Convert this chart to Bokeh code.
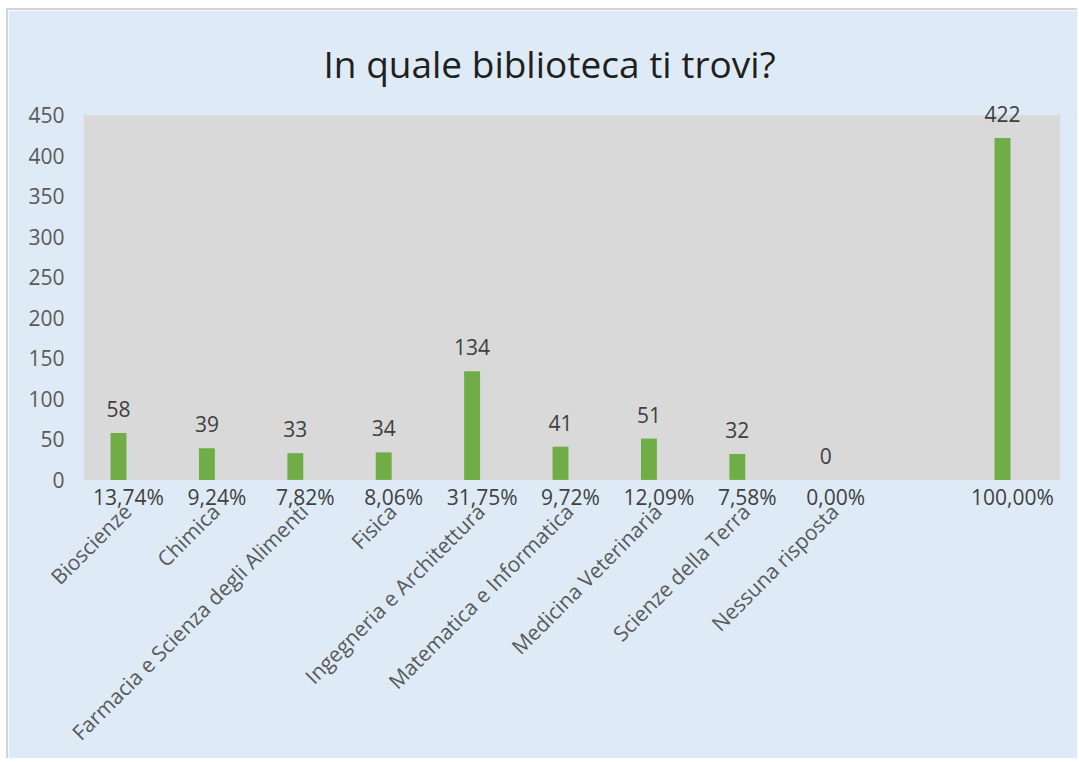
import math
from bokeh.plotting import figure
from bokeh.models import Range1d, FixedTicker, ColumnDataSource, LinearAxis, Spacer
from bokeh.layouts import column, row
from bokeh.core.properties import value
from bokeh.embed import file_html
from bokeh.resources import INLINE

title_text = "In quale biblioteca ti trovi?"
categories = ["Bioscienze", "Chimica", "Farmacia e Scienza degli Alimenti", "Fisica",
              "Ingegneria e Architettura", "Matematica e Informatica", "Medicina Veterinaria",
              "Scienze della Terra", "Nessuna risposta", "", ""]
counts = [58, 39, 33, 34, 134, 41, 51, 32, 0, None, 422]
percent_labels = ["13,74%", "9,24%", "7,82%", "8,06%", "31,75%", "9,72%", "12,09%",
                  "7,58%", "0,00%", "", "100,00%"]
y_ticks = [0, 50, 100, 150, 200, 250, 300, 350, 400, 450]

FONT = "Open Sans"
BLUE = "#DEEBF7"
GRAY = "#D9D9D9"
EDGE = "#D4D4D4"
GREEN = "#70AD47"

pos = list(range(len(categories)))
bx = [i for i, c in zip(pos, counts) if c is not None]
by = [c for c in counts if c is not None]
bars = ColumnDataSource(dict(x=bx, top=by, lab=[str(c) for c in by]))
px = [i for i, t in zip(pos, percent_labels) if t]
pt = [t for t in percent_labels if t]
pcts = ColumnDataSource(dict(x=px, y=[0] * len(px), t=pt))

# layout (pixels)
W, H = 1069, 748
frame_top, frame_bottom = 85, 508      # within figure
gray_top, zero_y = 105, 474             # where 450 and 0 fall
ppu = (zero_y - gray_top) / 450.0
y0 = -(frame_bottom - zero_y) / ppu
y1 = 450 + (gray_top - frame_top) / ppu
x0, x1 = -0.396, 10.656
shift = 0.10

p = figure(width=W, height=H, x_range=Range1d(x0, x1), y_range=Range1d(y0, y1),
           output_backend="svg", toolbar_location=None, x_axis_location=None,
           min_border_left=75, min_border_right=17, min_border_top=frame_top,
           min_border_bottom=H - frame_bottom)
p.extra_x_ranges = {"cat": Range1d(x0 - shift, x1 - shift)}
p.background_fill_color = BLUE
p.border_fill_color = BLUE
p.outline_line_color = BLUE
p.outline_line_width = 2
p.grid.visible = False

p.quad(left=[x0], right=[x1], bottom=[0], top=[450], fill_color=GRAY, line_color=None)
p.vbar(x="x", top="top", width=0.18, bottom=0, source=bars, fill_color=GREEN, line_color=None)

p.text(x="x", y="top", text="lab", source=bars, y_offset=-24,
       text_align="center", text_baseline="middle",
       text_font=value(FONT), text_font_size="21px", text_color="#404040")
p.text(x="x", y="y", text="t", source=pcts, x_offset=10, y_offset=17,
       text_align="center", text_baseline="middle",
       text_font=value(FONT), text_font_size="21px", text_color="#404040")

p.title.text = title_text
p.title.align = "left"
p.title.offset = 240
p.title.standoff = 13
p.title.text_font = FONT
p.title.text_font_size = "37px"
p.title.text_font_style = "normal"
p.title.text_color = "#1F1F1F"

p.yaxis.ticker = FixedTicker(ticks=y_ticks)
p.yaxis.axis_line_color = None
p.yaxis.major_tick_line_color = None
p.yaxis.minor_tick_line_color = None
p.yaxis.major_label_standoff = 13
p.yaxis.major_label_text_font = FONT
p.yaxis.major_label_text_font_size = "21px"
p.yaxis.major_label_text_color = "#595959"

xa = LinearAxis(x_range_name="cat")
xa.ticker = FixedTicker(ticks=pos)
xa.major_label_overrides = {i: c for i, c in zip(pos, categories)}
xa.major_label_orientation = math.pi / 4
xa.axis_line_color = None
xa.major_tick_line_color = None
xa.minor_tick_line_color = None
xa.major_label_standoff = -12
xa.major_label_text_font = FONT
xa.major_label_text_font_size = "21px"
xa.major_label_text_color = "#595959"
p.add_layout(xa, "below")

edge_top = Spacer(width=W, height=2, styles={"background-color": EDGE})
edge_left = Spacer(width=2, height=H + 2, styles={"background-color": EDGE})
layout = column(Spacer(height=8),
                row(Spacer(width=6), edge_left, column(edge_top, p)))
open("out.html", "w").write(file_html(layout, INLINE))
